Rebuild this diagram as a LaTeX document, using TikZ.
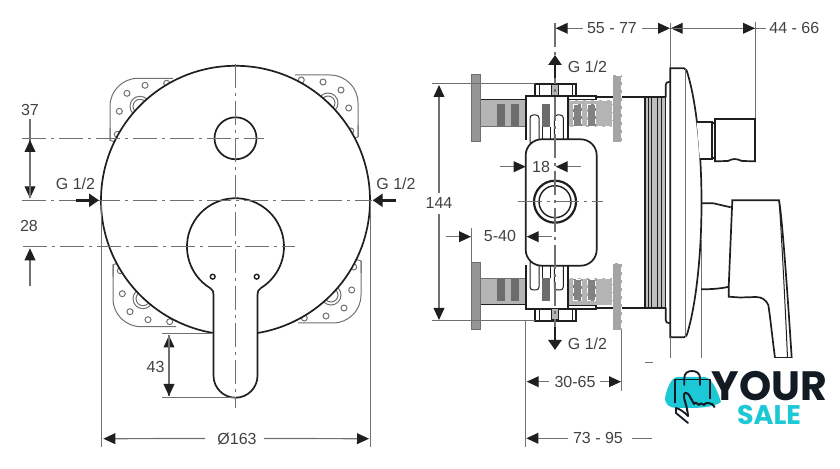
\documentclass[tikz,border=0pt]{standalone}
\usepackage{fontspec}
\setmainfont{Liberation Sans}
\newfontfamily\logofont{Poppins}
\usetikzlibrary{arrows.meta}
\definecolor{inkdark}{HTML}{1F1F1F}
\definecolor{dimgrey}{HTML}{707070}
\definecolor{armgrey}{HTML}{B4B4B4}
\definecolor{flangegrey}{HTML}{959595}
\definecolor{slotgrey}{HTML}{6C6C6C}
\definecolor{logocyan}{HTML}{1DC8D6}
\definecolor{logoink}{HTML}{121A24}
\tikzset{
  every node/.style={font=\fontsize{8}{9}\selectfont, text=inkdark!85!white, inner sep=0pt},
  body/.style={draw=inkdark, line width=0.85pt},
  thinbody/.style={draw=inkdark, line width=0.5pt},
  guide/.style={draw=dimgrey, line width=0.5pt},
  dimline/.style={draw=dimgrey, line width=0.6pt, arrows={-}},
  dimtip/.style={dimline, -{Triangle[length=6pt,width=5.4pt,color=inkdark]}},
  centerline/.style={draw=dimgrey, line width=0.55pt, dash pattern=on 12pt off 2.5pt on 1.5pt off 2.5pt},
  flow/.style={draw=inkdark, line width=1.4pt, -{Triangle[length=5pt,width=6.5pt,color=inkdark]}},
  hole/.style={draw=dimgrey, line width=0.5pt, fill=white},
  slotbox/.style={draw=none, fill=slotgrey},
  whitedash/.style={draw=white, line width=0.3pt, dash pattern=on 2.5pt off 1.5pt},
}
\newcommand{\valvehalf}{%
  \fill[armgrey] (480.7,100) rectangle (525.7,126.7);
  \draw[thinbody] (480.7,100) to (525.7,100);
  \draw[guide] (480.7,126.7) to (525.7,126.7);
  \draw[guide, fill=flangegrey] (471.3,75) rectangle (480.7,142);
  \draw[slotbox] (497.3,104.3) rectangle (504.7,126);
  \draw[slotbox] (511.3,104.3) rectangle (519,126);
  \fill[black!25] (645,97.3) rectangle (665.7,202.5);
  \draw[body] (596,97.3) to (665,97.3);
  \fill[armgrey] (567.7,100) rectangle (612.7,126.7);
  \draw[whitedash] (567.7,100) rectangle (612.7,126.7);
  \draw[slotbox, fill=slotgrey!85!white] (573.3,104.3) rectangle (581.7,126);
  \draw[whitedash] (573.3,104.3) rectangle (581.7,126);
  \draw[slotbox, fill=slotgrey!85!white] (587.7,104.3) rectangle (595.7,126);
  \draw[whitedash] (587.7,104.3) rectangle (595.7,126);
  \fill[flangegrey!85!white] (612.7,75) rectangle (621.7,142);
  \draw[whitedash] (612.7,75) rectangle (621.7,142);
  \draw[body, fill=white] (525.7,140) to (525.7,96) to (596,96) to (596,99.5) to (567.7,99.5) to (567.7,140);
  \draw[body, fill=white] (567.7,96) to (567.7,140);
  \draw[thinbody, fill=white, rounded corners=1.5pt] (530,115) rectangle (539,145);
  \draw[thinbody, fill=white, rounded corners=1.5pt] (554.3,115) rectangle (563.3,145);
  \draw[slotbox] (542.3,104.3) rectangle (550,127);
  \draw[thinbody] (542.7,127) to (542.7,140);
  \draw[thinbody] (550,127) to (550,140);
  \draw[body, fill=white] (535.3,84) rectangle (576,96);
  \draw[thinbody] (539,84) to (539,96);
  \draw[thinbody] (572,84) to (572,96);
  \draw[thinbody, fill=armgrey] (551.7,85) rectangle (558.3,96);
  \foreach \ribx in {645,648.3,651.7,657.3,661.7,665.7} {
    \draw[draw=inkdark, line width=0.75pt] (\ribx,97.3) to (\ribx,202.5);
  }
  \draw[body] (665.7,97.3) to (665.7,85) .. controls (665.7,83) and (667,81.7) .. (670,81.7);
}
\begin{document}
\begin{tikzpicture}[x=0.5pt, y=-0.5pt]
  \useasboundingbox (0,0) rectangle (840,469);

  \foreach \platex/\platey/\rotx/\roty in {110/78.3/1/1, 358/75/-1/1, 113/326.7/1/-1, 361/323/-1/-1} {
    \begin{scope}[shift={(\platex,\platey)}, xscale=\rotx, yscale=\roty]
      \draw[guide, rounded corners=14pt] (63,0) to (0,0) to (0,62);
      \draw[guide] (0,50) to (0,62) to (12,66);
      \draw[guide] (30,28) circle[radius=10];
      \draw[guide] (30,28) circle[radius=7];
      \foreach \holex/\holey in {9.3/33, 17/15, 35/7, 56.7/5, 7.3/56} {
        \draw[hole] (\holex,\holey) circle[radius=3];
      }
    \end{scope}
  }

  \draw[body, fill=white] (235.5,200.3) circle[radius=134.5];
  \draw[body] (235.5,138.3) circle[radius=21];
  \draw[body, fill=white] (213.5,375.7) to (213.5,296) .. controls (213.5,291) and (212.5,289.5) .. (210,288)
    arc[start angle=121.7, end angle=418.3, radius=48.5]
    .. controls (258.5,289.5) and (257.5,291) .. (257.5,296) to (257.5,375.7)
    arc[start angle=0, end angle=180, radius=22] -- cycle;
  \draw[body, line width=0.7pt] (212.7,276.7) circle[radius=2.4];
  \draw[body, line width=0.7pt] (256.7,276.7) circle[radius=2.4];

  \draw[centerline] (235.5,64) to (235.5,408);
  \draw[centerline] (22,200.3) to (372,200.3);
  \draw[centerline] (22,138.3) to (264,138.3);
  \draw[centerline] (23,246.7) to (295,246.7);

  \node (dimtop) at (30,109.5) {37};
  \coordinate (dimtopa) at (30,119);
  \coordinate (dimtopb) at (30,140);
  \coordinate (dimtopc) at (30,198.3);
  \draw[dimtip] (dimtopa) to (dimtopc);
  \draw[dimtip] (dimtopc) to (dimtopb);
  \node (dimlow) at (29,225.7) {28};
  \coordinate (dimlowa) at (30,286);
  \coordinate (dimlowb) at (30,248.3);
  \draw[dimtip] (dimlowa) to (dimlowb);

  \node (gleft) at (75.5,184) {G 1/2};
  \coordinate (gleftfrom) at (76,200.3);
  \coordinate (gleftto) at (99,200.3);
  \draw[flow] (gleftfrom) to (gleftto);
  \node (gright) at (396,184) {G 1/2};
  \coordinate (grightfrom) at (395.7,200.3);
  \coordinate (grightto) at (372.7,200.3);
  \draw[flow] (grightfrom) to (grightto);

  \draw[guide] (101,200.3) to (101,447);
  \draw[guide] (370,200.3) to (370,447);
  \node (diam) at (237,438.5) {Ø163};
  \coordinate (diama) at (103.3,438.7);
  \coordinate (diamb) at (369,438.7);
  \draw[dimtip] (diam.west) ++(-12,0) to (diama);
  \draw[dimtip] (diam.east) ++(7,0) to (diamb);

  \draw[guide] (162,334) to (213,334);
  \draw[guide] (162,397.7) to (235,397.7);
  \node (grip) at (155.5,366.7) {43};
  \coordinate (gripa) at (169,335.5);
  \coordinate (gripb) at (169,396);
  \draw[dimtip] (gripb) to (gripa);
  \draw[dimtip] (gripa) to (gripb);

  \valvehalf
  \begin{scope}[shift={(0,405)}, yscale=-1]
    \valvehalf
  \end{scope}

  \draw[body, fill=white, rounded corners=8pt] (525.7,139.3) rectangle (596.7,265.7);
  \draw[body, line width=1.1pt] (555,201.7) circle[radius=21];
  \draw[body, line width=0.7pt] (555,201.7) circle[radius=16];

  \draw[guide] (432,84) to (535.3,84);
  \draw[guide] (432,321) to (535.3,321);
  \draw[guide] (525.7,321) to (525.7,447);
  \draw[guide] (621.7,330) to (621.7,390.7);
  \draw[guide] (471,228) to (471,263);
  \draw[centerline] (555,23) to (555,327);
  \draw[centerline] (517.7,201.7) to (603,201.7);

  \node (gtop) at (587.5,66.7) {G 1/2};
  \coordinate (gtopfrom) at (555,78);
  \coordinate (gtopto) at (555,55);
  \draw[flow] (gtopfrom) to (gtopto);
  \node (gbottom) at (587.5,344) {G 1/2};
  \coordinate (gbottomfrom) at (555,327.3);
  \coordinate (gbottomto) at (555,350);
  \draw[flow] (gbottomfrom) to (gbottomto);

  \node (tall) at (439,203.5) {144};
  \coordinate (talla) at (439,85);
  \coordinate (tallb) at (439,320);
  \draw[dimtip] (tall.north) ++(0,-5) to (talla);
  \draw[dimtip] (tall.south) ++(0,5) to (tallb);

  \node (bore) at (541,167) {18};
  \coordinate (borea) at (500,166.7);
  \coordinate (boreb) at (525.7,166.7);
  \coordinate (borec) at (580.7,166.7);
  \coordinate (bored) at (555.7,166.7);
  \draw[dimtip] (borea) to (boreb);
  \draw[dimtip] (borec) to (bored);

  \node (span) at (500,236) {5-40};
  \coordinate (spana) at (446,236.7);
  \coordinate (spanb) at (471,236.7);
  \coordinate (spanc) at (551.7,236.7);
  \coordinate (spand) at (526.7,236.7);
  \draw[dimtip] (spana) to (spanb);
  \draw[dimtip] (spanc) to (spand);

  \node (reachtop) at (612,28) {55 - 77};
  \coordinate (reacha) at (582.7,28.3);
  \coordinate (reachb) at (555.7,28.3);
  \coordinate (reachc) at (641.7,28.3);
  \coordinate (reachd) at (670,28.3);
  \draw[dimtip] (reacha) to (reachb);
  \draw[dimtip] (reachc) to (reachd);

  \node (depth) at (794.3,28.3) {44 - 66};
  \coordinate (deptha) at (670.7,28.3);
  \coordinate (depthb) at (755,28.3);
  \coordinate (depthc) at (766,28.3);
  \draw[dimtip] (depthb) to (deptha);
  \draw[dimtip] (deptha) to (depthb);
  \draw[dimline] (depthb) to (depthc);
  \draw[guide] (670,23) to (670,68);
  \draw[guide] (755,22) to (755,119);

  \node (wall) at (575,381.5) {30-65};
  \coordinate (walla) at (549,381.7);
  \coordinate (wallb) at (526.7,381.7);
  \coordinate (wallc) at (600,381.7);
  \coordinate (walld) at (621,381.7);
  \draw[dimtip] (walla) to (wallb);
  \draw[dimtip] (wallc) to (walld);

  \node (total) at (598,438) {73 - 95};
  \coordinate (totala) at (568,438.3);
  \coordinate (totalb) at (526.3,438.3);
  \coordinate (totalc) at (631.7,438.3);
  \coordinate (totald) at (651.7,438.3);
  \draw[dimtip] (totala) to (totalb);
  \draw[dimline] (totalc) to (totald);

  \draw[body, fill=white] (670.3,337.3) to (670.3,68.3) to (684,68.3)
    .. controls (686,68.3) and (687,71) .. (688,75)
    .. controls (694,95) and (698,125) .. (700,155)
    .. controls (702,185) and (702,220) .. (700,250)
    .. controls (698,280) and (694,310) .. (688,331)
    .. controls (687,335) and (686,337.3) .. (684,337.3) -- cycle;
  \draw[guide] (685.7,69) to (685.7,337);
  \draw[guide] (670.3,337) to (670.3,358);
  \draw[guide] (701.7,240) to (701.7,358);

  \draw[body, fill=white] (696.7,122) to (712.3,122) to (712.3,158.7) to (699.8,158.7);
  \draw[body, line width=0.6pt] (712.3,123) to (715,123);
  \draw[body, line width=0.6pt] (712.3,158) to (715,158);
  \draw[body, fill=white] (715,119) to (755,119) to (755,161.3) to (742,161)
    .. controls (736,158.5) and (733,158.3) .. (728,161) to (715,161.3) -- cycle;

  \draw[body] (701.7,203.3) to (713.3,203.3) to (730.7,207.3);
  \draw[body] (701,289.3) .. controls (712,289.3) and (722,288.5) .. (728.7,286.7);
  \draw[body, fill=white] (728.7,296.7) to (728.7,286.7) to (732.3,200.3) to (779,200.3)
    .. controls (782,215) and (788,300) .. (791.7,358) to (775,358)
    .. controls (772,335) and (770,315) .. (768.3,305)
    .. controls (766,300) and (762,297) .. (756,297) to (740,297.5) -- cycle;
  \draw[thinbody] (779,200.3) .. controls (781,225) and (785,300) .. (787.5,358);

  \draw[guide] (645,362.7) to (653,362.7);
  \fill[white] (660,358) rectangle (836,432);

  \fill[logocyan] (665,398) .. controls (667,388) and (671,377) .. (678,377)
    to (705,377) .. controls (712,378) and (718,392) .. (721,402)
    .. controls (715,407) and (700,408) .. (690,408) to (677,408)
    .. controls (670,408) and (665,405) .. (665,398) -- cycle;
  \draw[logoink, line width=0.9pt, line join=round] (675,403) to (675,379.5) to (710,379.5) to (710,399);
  \draw[logoink, line width=0.9pt, line cap=round] (684.3,385) to (684.3,378)
    .. controls (684.3,373) and (688,371) .. (692,371) .. controls (696,371) and (700,373) .. (700,378) to (700,385);
  \draw[logoink, line width=0.9pt, line cap=round, line join=round] (688,423) to (676,413) to (676,408) .. controls (680,409) and (684,412) .. (688,416);
  \draw[logoink, line width=1pt, line cap=round, line join=round] (688,416) .. controls (687,405) and (684,400) .. (684,397)
    .. controls (683,392) and (687,392) .. (689,395) to (694,404)
    .. controls (696,401) and (697,404) .. (699,405) .. controls (701,402) and (702,404) .. (704,405)
    .. controls (706,402) and (708,403) .. (712,404) to (714.5,407);

  \node (logoyour) at (769.5,386.5) {\logofont\bfseries\fontsize{20.5}{21}\selectfont\textcolor{logoink}{YOUR}};
  \node (logosale) at (769,415) {\logofont\bfseries\fontsize{13.5}{14}\selectfont\textcolor{logocyan}{SALE}};
\end{tikzpicture}
\end{document}
